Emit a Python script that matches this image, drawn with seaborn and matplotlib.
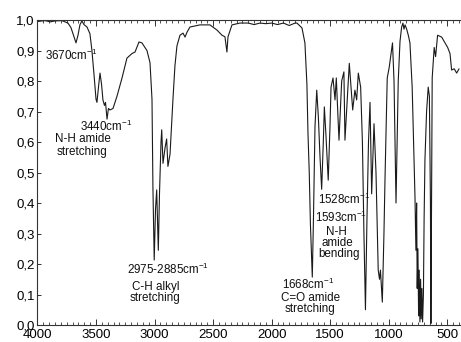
import numpy as np
import pandas as pd
import seaborn as sns
import matplotlib
matplotlib.use('Agg')
import matplotlib.pyplot as plt
from matplotlib.ticker import MultipleLocator, FixedLocator, FixedFormatter

# Spectrum (wavenumber in cm-1, transmittance)
wavenumber = [4000, 3936, 3890, 3850, 3791, 3740, 3714, 3688, 3671, 3654,
              3637, 3620, 3603, 3577, 3552, 3535, 3517, 3500, 3492, 3479,
              3466, 3453, 3441, 3428, 3419, 3406, 3394, 3381, 3355, 3321,
              3278, 3236, 3193, 3167, 3133, 3108, 3065, 3039, 3022, 3014,
              3010, 3003, 2992, 2982, 2968, 2958, 2945, 2939, 2928, 2911,
              2897, 2886, 2868, 2843, 2826, 2809, 2783, 2757, 2740, 2723,
              2698, 2612, 2527, 2467, 2424, 2399, 2382, 2373, 2339, 2271,
              2200, 2150, 2100, 2050, 2000, 1950, 1900, 1850, 1800, 1784,
              1741, 1716, 1699, 1690, 1679, 1669, 1653, 1643, 1630, 1615,
              1601, 1587, 1573, 1559, 1550, 1536, 1517, 1502, 1493, 1476,
              1459, 1448, 1425, 1402, 1383, 1374, 1337, 1308, 1289, 1274,
              1260, 1240, 1225, 1212, 1199, 1186, 1173, 1160, 1146, 1126,
              1109, 1090, 1079, 1071, 1055, 1041, 1032, 1013, 996, 968,
              955, 938, 919, 904, 890, 879, 870, 861, 847, 833,
              819, 800, 785, 776, 768, 762, 757, 751, 745, 740,
              734, 728, 723, 717, 711, 704, 698, 691, 677, 663,
              653, 644, 640, 634, 629, 612, 600, 583, 548, 520,
              497, 477, 463, 441, 420, 400]
transmittance = [0.995, 0.998, 0.994, 0.997, 0.998, 0.99, 0.975, 0.945, 0.925, 0.95,
                 0.985, 0.997, 0.985, 0.977, 0.955, 0.90, 0.82, 0.74, 0.73, 0.78,
                 0.826, 0.79, 0.738, 0.72, 0.73, 0.675, 0.71, 0.705, 0.71, 0.75,
                 0.81, 0.875, 0.89, 0.895, 0.928, 0.925, 0.90, 0.86, 0.74, 0.45,
                 0.36, 0.213, 0.38, 0.443, 0.245, 0.43, 0.60, 0.64, 0.53, 0.58,
                 0.61, 0.52, 0.56, 0.74, 0.85, 0.915, 0.95, 0.957, 0.944, 0.96,
                 0.977, 0.984, 0.984, 0.967, 0.95, 0.945, 0.895, 0.945, 0.984, 0.99,
                 0.99, 0.985, 0.99, 0.988, 0.99, 0.985, 0.99, 0.982, 0.99, 0.99,
                 0.974, 0.925, 0.79, 0.63, 0.50, 0.33, 0.157, 0.35, 0.65, 0.77,
                 0.68, 0.55, 0.445, 0.60, 0.715, 0.62, 0.475, 0.65, 0.78, 0.81,
                 0.738, 0.81, 0.606, 0.80, 0.83, 0.606, 0.858, 0.705, 0.77, 0.738,
                 0.826, 0.78, 0.60, 0.30, 0.05, 0.35, 0.60, 0.73, 0.43, 0.66,
                 0.50, 0.18, 0.15, 0.18, 0.075, 0.30, 0.48, 0.81, 0.845, 0.925,
                 0.80, 0.40, 0.80, 0.93, 0.977, 0.99, 0.97, 0.984, 0.97, 0.95,
                 0.925, 0.78, 0.55, 0.42, 0.245, 0.40, 0.12, 0.25, 0.03, 0.18,
                 0.01, 0.15, 0.02, 0.12, 0.01, 0.10, 0.35, 0.54, 0.70, 0.78,
                 0.75, 0.40, 0.005, 0.45, 0.81, 0.91, 0.88, 0.95, 0.944, 0.925,
                 0.91, 0.89, 0.836, 0.84, 0.826, 0.84]

x_ticks = [4000, 3500, 3000, 2500, 2000, 1500, 1000, 500]
x_tick_labels = ['4000', '3500', '3000', '2500', '2000', '1500', '1000', '500']
y_ticks = [0.0, 0.1, 0.2, 0.3, 0.4, 0.5, 0.6, 0.7, 0.8, 0.9, 1.0]
y_tick_labels = ['0,0', '0,1', '0,2', '0,3', '0,4', '0,5', '0,6', '0,7', '0,8', '0,9', '1,0']

# band labels: text, wavenumber, transmittance, alignment
labels = [
    (r'3670cm$^{-1}$', 3936, 0.885, 'left'),
    (r'3440cm$^{-1}$', 3637, 0.652, 'left'),
    ('N-H amide', 3616, 0.61, 'center'),
    ('stretching', 3616, 0.566, 'center'),
    (r'2975-2885cm$^{-1}$', 3236, 0.183, 'left'),
    ('C-H alkyl', 3193, 0.125, 'left'),
    ('stretching', 3210, 0.088, 'left'),
    (r'1528cm$^{-1}$', 1604, 0.412, 'left'),
    (r'1593cm$^{-1}$', 1630, 0.352, 'left'),
    ('N-H', 1451, 0.306, 'center'),
    ('amide', 1442, 0.270, 'center'),
    ('bending', 1425, 0.234, 'center'),
    (r'1668cm$^{-1}$', 1690, 0.132, 'center'),
    ('C=O amide', 1664, 0.088, 'center'),
    ('stretching', 1673, 0.052, 'center'),
]

df = pd.DataFrame({'wavenumber': wavenumber, 'transmittance': transmittance})

sns.set_style('ticks')
plt.rcParams['font.family'] = ['Liberation Sans', 'DejaVu Sans']
plt.rcParams['mathtext.fontset'] = 'custom'
plt.rcParams['mathtext.rm'] = 'Liberation Sans'

fig = plt.figure(figsize=(4.61, 3.42), dpi=100)
ax = fig.add_axes([0.0813, 0.0497, 0.9187, 0.8918])

sns.lineplot(data=df, x='wavenumber', y='transmittance', sort=False, estimator=None,
             color='#1a1a1a', linewidth=0.8, ax=ax)

ax.set_xlim(4000, 383)
ax.set_ylim(0, 1.0)
ax.xaxis.set_major_locator(FixedLocator(x_ticks))
ax.xaxis.set_major_formatter(FixedFormatter(x_tick_labels))
ax.xaxis.set_minor_locator(MultipleLocator(50))
ax.yaxis.set_major_locator(FixedLocator(y_ticks))
ax.yaxis.set_major_formatter(FixedFormatter(y_tick_labels))
ax.set_xlabel('')
ax.set_ylabel('')

ax.spines['right'].set_visible(False)
for s in ['left', 'top', 'bottom']:
    ax.spines[s].set_linewidth(0.8)
    ax.spines[s].set_color('#333333')
ax.tick_params(axis='both', which='both', direction='in', top=True, right=False,
               labelsize=9.5, colors='#333333', labelcolor='black')
ax.tick_params(axis='x', which='major', length=4, width=0.7, pad=3)
ax.tick_params(axis='x', which='minor', length=2.5, width=0.6)
ax.tick_params(axis='y', which='major', length=3, width=0.7, pad=2)

for txt, xw, yt, ha in labels:
    ax.text(xw, yt, txt, ha=ha, va='center', fontsize=8.4, color='#111111')

fig.savefig('out.png', dpi=100)
